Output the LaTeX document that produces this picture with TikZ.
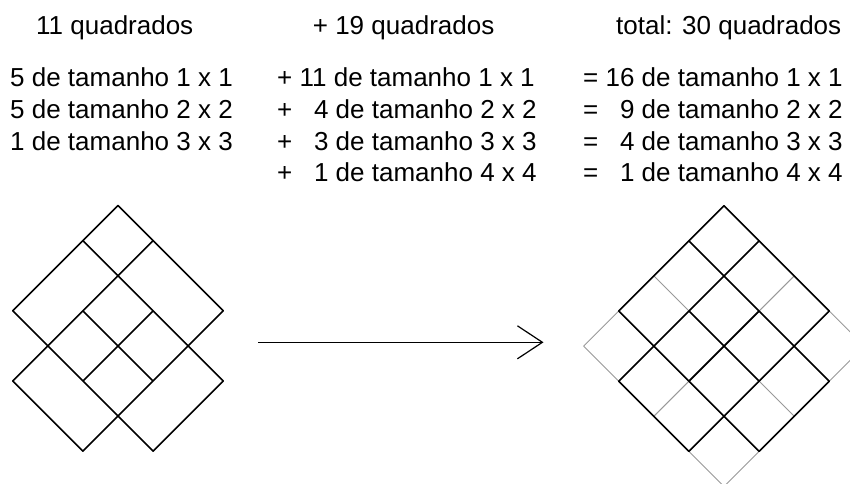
\documentclass[tikz,border=0pt]{standalone}
\usepackage{fontspec}
\setmainfont{Liberation Sans}
\usetikzlibrary{arrows.meta}

\tikzset{
	txt/.style={anchor=base west, inner sep=0pt, font=\fontsize{26}{31}\selectfont},
	quad/.style={line width=1.6pt, black, line cap=round},
	quadfino/.style={line width=0.9pt, gray!80},
}

\begin{document}
\begin{tikzpicture}[x=1pt,y=-1pt]

			\useasboundingbox (0,0) rectangle (850,483);
			\clip (0,0) rectangle (850,483);

			%titles
			\node[txt] (t1) at (36,34.5) {11 quadrados};
			\node[txt] (t2) at (312.7,34.5) {+ 19 quadrados};
			\node[txt] (t3) at (616,34.5) {total: 30 quadrados};

			%first column
			\node[txt] (a1) at (10,86.7) {5 de tamanho 1 x 1};
			\node[txt] (a2) at (10,118.3) {5 de tamanho 2 x 2};
			\node[txt] (a3) at (10,150) {1 de tamanho 3 x 3};

			%second column
			\node[txt] (b1) at (277,86.7) {+ 11 de tamanho 1 x 1};
			\node[txt] (b2) at (277,118.3) {+ \phantom{1}4 de tamanho 2 x 2};
			\node[txt] (b3) at (277,150) {+ \phantom{1}3 de tamanho 3 x 3};
			\node[txt] (b4) at (277,181.7) {+ \phantom{1}1 de tamanho 4 x 4};

			%third column
			\node[txt] (c1) at (583,86.7) {= 16 de tamanho 1 x 1};
			\node[txt] (c2) at (583,118.3) {= \phantom{1}9 de tamanho 2 x 2};
			\node[txt] (c3) at (583,150) {= \phantom{1}4 de tamanho 3 x 3};
			\node[txt] (c4) at (583,181.7) {= \phantom{1}1 de tamanho 4 x 4};

			%left figure: 11 squares
			\begin{scope}[shift={(118,205.5)}, x={(-35.1pt,-35.1pt)}, y={(35.1pt,-35.1pt)}]
				\draw[quad] (0,0)--(3,0) (0,1)--(4,1) (1,2)--(3,2) (0,3)--(4,3) (1,4)--(3,4)
				            (0,0)--(0,3) (1,0)--(1,4) (2,1)--(2,3) (3,0)--(3,4) (4,1)--(4,3);
			\end{scope}

			%arrow
			\coordinate (ini) at (258,342.3);
			\coordinate (fim) at (543.5,342.3);
			\draw[-{Straight Barb[length=25pt,width=33pt]}, line width=1.2pt] (ini) -- (fim);

			%right figure: 4 x 4 grid, 30 squares
			\begin{scope}[shift={(724,205.7)}, x={(-35.1pt,-35.1pt)}, y={(35.1pt,-35.1pt)}]
				\foreach \i in {0,...,4}
					\draw[quadfino] (\i,0)--(\i,4) (0,\i)--(4,\i);
				\draw[quad] (0,0)--(3,0) (0,1)--(4,1) (1,2)--(3,2) (0,3)--(4,3) (1,4)--(3,4)
				            (0,0)--(0,3) (1,0)--(1,4) (2,1)--(2,3) (3,0)--(3,4) (4,1)--(4,3);
			\end{scope}

\end{tikzpicture}
\end{document}
